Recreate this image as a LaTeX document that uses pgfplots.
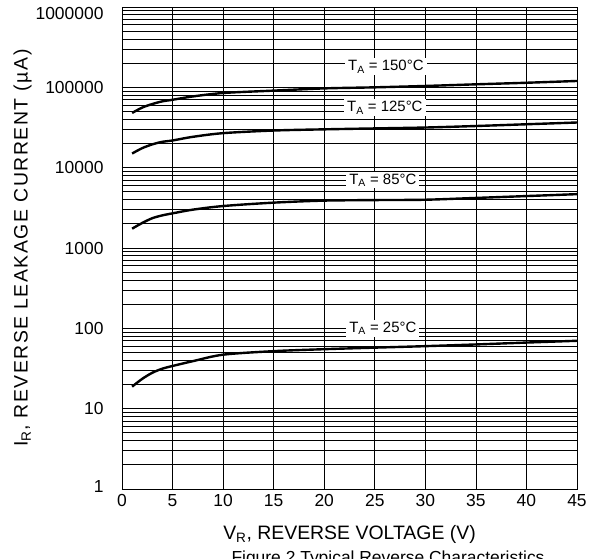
\documentclass[border=0pt]{standalone}
\usepackage{pgfplots}
\pgfplotsset{compat=1.18}
\usepackage{fontspec}
\setmainfont{Liberation Sans}

\begin{document}
\begin{tikzpicture}
\useasboundingbox (-122bp,-70bp) rectangle (475bp,489bp);
\begin{axis}[
    scale only axis,
    width=455bp, height=482bp,
    xmin=0, xmax=45, ymode=log, ymin=1, ymax=1000000,
    xtick={0,5,...,45},
    ytick={1,10,100,1000,10000,100000,1000000},
    yticklabels={\raisebox{-3.5bp}[0pt][0pt]{1},10,100,1000,10000,100000,\raisebox{-13bp}[0pt][0pt]{1000000}},
    /pgf/number format/assume math mode=true,
    tick label style={font=\fontsize{17.5}{20}\selectfont},
    yticklabel style={xshift=-15bp},
    xticklabel style={yshift=-2bp},
    grid=both,
    major grid style={black, line width=0.7bp},
    minor grid style={black, line width=0.7bp},
    axis line style={black, line width=0.8bp},
    tick style={draw=none},
    xlabel={V\textsubscript{R}, REVERSE VOLTAGE (V)},
    ylabel={\addfontfeatures{LetterSpace=8}I\textsubscript{R}, REVERSE LEAKAGE CURRENT (µA)},
    label style={font=\fontsize{19.5}{22}\selectfont},
    xlabel style={yshift=-12bp},
    ylabel style={yshift=-3bp},
]
\addplot[black, line width=2.4bp, smooth] coordinates {
(1,48000) (2,56000) (3,62000) (4,67000) (5,70000) (7,77000) (10,85000) (15,91000) (20,97000) (25,100000) (30,104000) (35,109000) (40,114000) (45,120000)};
\addplot[black, line width=2.4bp, smooth] coordinates {
(1,15000) (2,17500) (3,19500) (4,21000) (5,21800) (7,24200) (10,26900) (15,29000) (20,30000) (25,30800) (30,31600) (35,33000) (40,34700) (45,36500)};
\addplot[black, line width=2.4bp, smooth] coordinates {
(1,1740) (2,2050) (3,2350) (4,2550) (5,2700) (7,3000) (10,3330) (15,3670) (20,3890) (25,3950) (30,3990) (35,4200) (40,4430) (45,4680)};
\addplot[black, line width=2.4bp, smooth] coordinates {
(1,18.8) (2,23.5) (3,28) (4,31.5) (5,34) (7,39) (10,47) (15,52) (20,55) (25,57.5) (30,60) (35,63) (40,66.5) (45,70)};
\begin{scope}[every node/.style={fill=white, inner xsep=3bp, inner ysep=2bp, font=\fontsize{15}{17}\selectfont}]
\node at (axis cs:26.1,180000) {T\textsubscript{A} = 150°C};
\node at (axis cs:26.0,55600) {T\textsubscript{A} = 125°C};
\node at (axis cs:25.8,7000) {T\textsubscript{A} = 85°C};
\node at (axis cs:25.8,100) {T\textsubscript{A} = 25°C};
\end{scope}
\end{axis}
\node[font=\fontsize{17.5}{20}\selectfont] at (266bp,-70bp) {Figure 2 Typical Reverse Characteristics};
\end{tikzpicture}
\end{document}
